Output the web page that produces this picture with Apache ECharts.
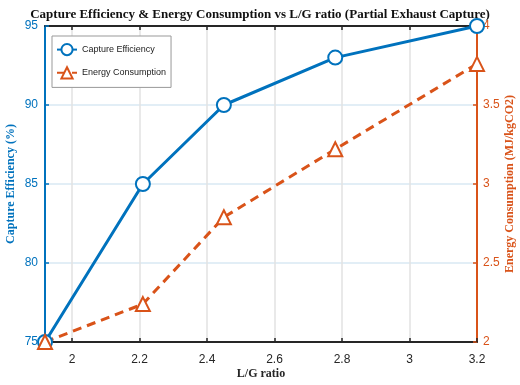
<!DOCTYPE html>
<html>
<head>
<meta charset="utf-8">
<script src="https://cdn.jsdelivr.net/npm/echarts@6/dist/echarts.min.js"></script>
<style>html,body{margin:0;padding:0;background:#fff}#c{width:520px;height:385px}</style>
</head>
<body>
<div id="c"></div>
<script>
const lgRatio = [1.92, 2.21, 2.45, 2.78, 3.2];
const captureEff = [75, 85, 90, 93, 95];
const energy = [2.0, 2.24, 2.79, 3.22, 3.76];
const xTicks = [2, 2.2, 2.4, 2.6, 2.8, 3, 3.2];
const titleText = 'Capture Efficiency & Energy Consumption vs L/G ratio (Partial Exhaust Capture)';

const BLUE = '#0072BD', ORANGE = '#D95319', DARK = '#262626';
const chart = echarts.init(document.getElementById('c'));
const serif = 'Liberation Serif', sans = 'Liberation Sans';
chart.setOption({
  animation: false,
  backgroundColor: '#fff',
  title: {text: titleText, left: 'center', top: 3,
    textStyle: {fontFamily: serif, fontWeight: 'bold', fontSize: 13, color: '#111'}},
  grid: {left: 45, right: 43, top: 26, bottom: 43, show: false, outerBoundsMode: 'none', containLabel: false},
  legend: {
    orient: 'vertical', left: 52, top: 36,
    backgroundColor: '#fff', borderColor: '#999', borderWidth: 1,
    padding: [7, 5, 8, 4], itemGap: 10, itemWidth: 20, itemHeight: 14,
    textStyle: {fontFamily: sans, fontSize: 9, color: '#222'},
    data: ['Capture Efficiency', 'Energy Consumption']
  },
  xAxis: [{
    type: 'value', min: 1.92, max: 3.2,
    name: 'L/G ratio', nameLocation: 'middle', nameGap: 26, nameMoveOverlap: false,
    nameTextStyle: {fontFamily: serif, fontWeight: 'bold', fontSize: 12, color: DARK},
    axisLine: {lineStyle: {color: DARK, width: 2}},
    axisTick: {inside: true, length: 4, customValues: xTicks, lineStyle: {color: DARK, width: 1.5}},
    axisLabel: {customValues: xTicks, fontFamily: sans, fontSize: 12, color: DARK, margin: 12},
    splitLine: {show: true, lineStyle: {color: '#e2e2e2', width: 1.5}}
  }, {
    type: 'value', min: 1.92, max: 3.2, position: 'top',
    axisLine: {lineStyle: {color: DARK, width: 2}},
    axisTick: {inside: true, length: 4, customValues: xTicks, lineStyle: {color: DARK, width: 1.5}},
    axisLabel: {show: false}, splitLine: {show: false}
  }],
  yAxis: [{
    type: 'value', min: 75, max: 95, interval: 5, position: 'left',
    name: 'Capture Efficiency (%)', nameLocation: 'middle', nameGap: 28, nameRotate: 90, nameMoveOverlap: false,
    nameTextStyle: {fontFamily: serif, fontWeight: 'bold', fontSize: 12, color: BLUE},
    axisLine: {show: true, lineStyle: {color: BLUE, width: 2}},
    axisTick: {show: true, inside: true, length: 4, lineStyle: {color: BLUE, width: 1.5}},
    axisLabel: {fontFamily: sans, fontSize: 12, color: BLUE, margin: 7},
    splitLine: {show: true, lineStyle: {color: '#d9e8f3', width: 1.5}}
  }, {
    type: 'value', min: 2, max: 4, interval: 0.5, position: 'right',
    name: 'Energy Consumption (MJ/kgCO2)', nameLocation: 'middle', nameGap: 27, nameRotate: 90, nameMoveOverlap: false,
    nameTextStyle: {fontFamily: serif, fontWeight: 'bold', fontSize: 12, color: ORANGE},
    axisLine: {show: true, lineStyle: {color: ORANGE, width: 2}},
    axisTick: {show: true, inside: true, length: 4, lineStyle: {color: ORANGE, width: 1.5}},
    axisLabel: {fontFamily: sans, fontSize: 12, color: ORANGE, margin: 6},
    splitLine: {show: false}
  }],
  series: [{
    name: 'Capture Efficiency', type: 'line', xAxisIndex: 0, yAxisIndex: 0,
    data: lgRatio.map((x, i) => [x, captureEff[i]]),
    symbol: 'emptyCircle', symbolSize: 14,
    lineStyle: {color: BLUE, width: 3},
    itemStyle: {color: BLUE, borderWidth: 2.5}
  }, {
    name: 'Energy Consumption', type: 'line', xAxisIndex: 0, yAxisIndex: 1,
    data: lgRatio.map((x, i) => [x, energy[i]]),
    symbol: 'emptyTriangle', symbolSize: 14,
    lineStyle: {color: ORANGE, width: 3, type: [9, 6]},
    itemStyle: {color: ORANGE, borderWidth: 2.5}
  }]
});
</script>
</body>
</html>
